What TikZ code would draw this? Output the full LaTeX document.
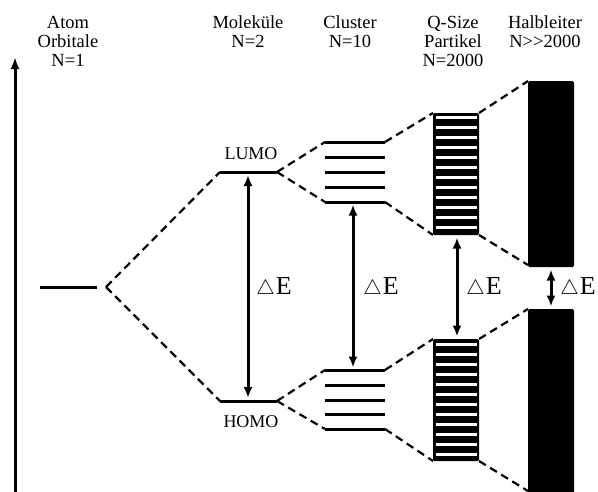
\documentclass[tikz,border=0pt]{standalone}
\usepackage{fontspec}
\setmainfont{Liberation Serif}
\usetikzlibrary{arrows.meta}
\newcommand\myDE{{\fontsize{20}{20}\selectfont$\triangle$}\kern1pt{\fontsize{26}{26}\selectfont E}}
\begin{document}
\begin{tikzpicture}[x=1pt,y=-1pt,
  level/.style={line width=3pt},
  link/.style={line width=2.2pt, dash pattern=on 8pt off 5pt},
  gaparrow/.style={line width=3pt, {Latex[length=11pt,width=9pt]}-{Latex[length=11pt,width=9pt]}},
  axisarrow/.style={line width=3pt, -{Latex[length=12pt,width=9pt]}},
  title/.style={font=\fontsize{18.5}{19}\selectfont, anchor=base, inner sep=0pt},
  orb/.style={font=\fontsize{18}{19}\selectfont, anchor=base, inner sep=0pt},
  delta/.style={anchor=base, inner sep=0pt},
  band/.style={fill=black, rounded corners=1.5pt},
  stripe/.style={fill=white}
]
\useasboundingbox (0,0) rectangle (598,491);

% titles
\node[title] (a1) at (68,28) {Atom};
\node[title] (a2) at (68,47.5) {Orbitale};
\node[title] (a3) at (68,66.5) {N=1};
\node[title] (m1) at (248,28) {Moleküle};
\node[title] (m2) at (248,47.5) {N=2};
\node[title] (c1) at (350,28) {Cluster};
\node[title] (c2) at (350,47.5) {N=10};
\node[title] (q1) at (453,28) {Q-Size};
\node[title] (q2) at (453,47.5) {Partikel};
\node[title] (q3) at (453,66.5) {N=2000};
\node[title] (h1) at (545,28) {Halbleiter};
\node[title] (h2) at (545,47.5) {N{>}{>}2000};

% energy axis
\coordinate (axB) at (15,495);
\coordinate (axT) at (15,57);
\draw[axisarrow] (axB) -- (axT);

% atom level
\coordinate (atL) at (40,287);
\coordinate (atR) at (97,287);
\coordinate (atS) at (106,287);
\draw[level] (atL) -- (atR);

% molecule levels
\coordinate (luL) at (220,172);
\coordinate (luR) at (277,172);
\coordinate (hoL) at (220,401);
\coordinate (hoR) at (277,401);
\draw[level] (luL) -- (luR);
\draw[level] (hoL) -- (hoR);
\node[orb] (lumo) at (251,159) {LUMO};
\node[orb] (homo) at (251,427) {HOMO};
\draw[link] (atS) -- (luL);
\draw[link] (atS) -- (hoL);

% cluster levels
\foreach \y [count=\i] in {142,157,172,187,202} {
  \coordinate (cuL\i) at (325,\y);
  \coordinate (cuR\i) at (385,\y);
  \draw[level] (cuL\i) -- (cuR\i);
}
\foreach \y [count=\i] in {370,385,400,414.5,429} {
  \coordinate (clL\i) at (325,\y);
  \coordinate (clR\i) at (385,\y);
  \draw[level] (clL\i) -- (clR\i);
}
\draw[link] (luR) -- (cuL1);
\draw[link] (luR) -- (cuL5);
\draw[link] (hoR) -- (clL1);
\draw[link] (hoR) -- (clL5);

% Q-size bands
\coordinate (qu1) at (433,113);
\coordinate (qu2) at (479,235);
\coordinate (ql1) at (433,339);
\coordinate (ql2) at (479,461);
\fill[band] (qu1) rectangle (qu2);
\fill[band] (ql1) rectangle (ql2);
\foreach \k in {0,...,11} {
  \fill[stripe] (436,{116.2+10*\k}) rectangle (476.5,{118.8+10*\k});
  \fill[stripe] (436,{343.0+10*\k}) rectangle (476.5,{345.6+10*\k});
}
\draw[link] (cuR1) -- (qu1);
\draw[link] (cuR5) -- (433,235);
\draw[link] (clR1) -- (ql1);
\draw[link] (clR5) -- (433,461);

% semiconductor bands
\coordinate (hu1) at (528,81);
\coordinate (hu2) at (574,267);
\coordinate (hl1) at (528,309);
\coordinate (hl2) at (574,500);
\fill[band] (hu1) rectangle (hu2);
\fill[band] (hl1) rectangle (hl2);
\draw[link] (479,113) -- (hu1);
\draw[link] (qu2) -- (528,265);
\draw[link] (479,339) -- (hl1);
\draw[link] (ql2) -- (528,491);

% gap arrows
\draw[gaparrow] (248,175) -- (248,398);
\draw[gaparrow] (353,204.5) -- (353,367.5);
\draw[gaparrow] (457,237.5) -- (457,336.5);
\draw[gaparrow] (551,269.5) -- (551,306.5);

\node[delta] (d1) at (274,294) {\myDE};
\node[delta] (d2) at (381,294) {\myDE};
\node[delta] (d3) at (484,294) {\myDE};
\node[delta] (d4) at (578,294) {\myDE};
\end{tikzpicture}
\end{document}
